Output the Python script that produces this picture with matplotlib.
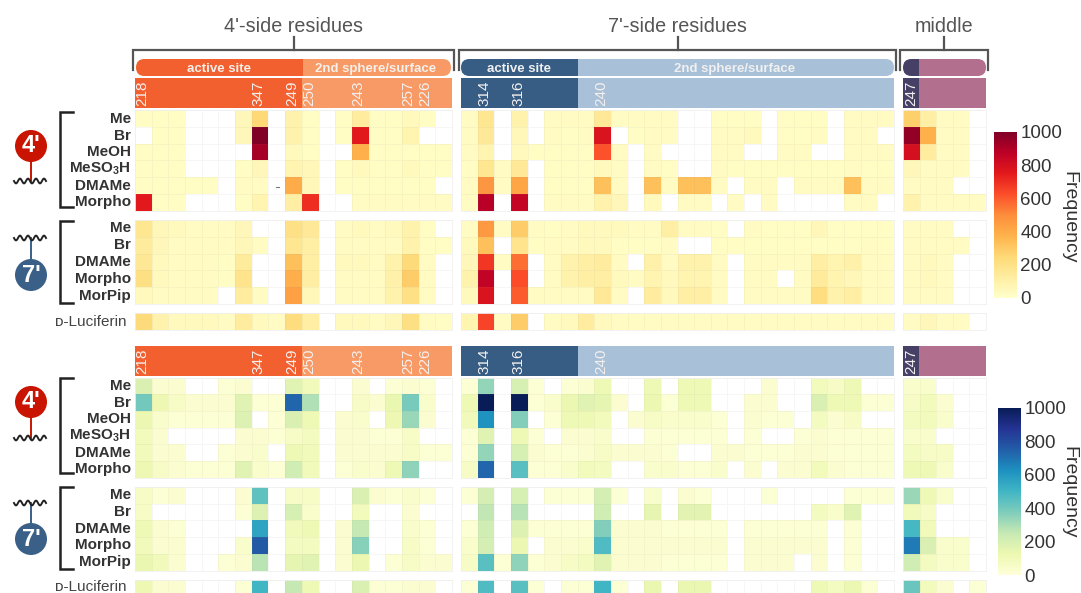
import numpy as np
import matplotlib
matplotlib.use('Agg')
import matplotlib.pyplot as plt
from matplotlib.patches import Rectangle, FancyBboxPatch, Circle

plt.rcParams['font.family'] = ['Liberation Sans', 'DejaVu Sans']
plt.rcParams['mathtext.fontset'] = 'custom'
plt.rcParams['mathtext.bf'] = 'Liberation Sans:bold'

n = np.nan

rows_4 = ['Me', 'Br', 'MeOH', r'$\mathbf{MeSO_3H}$', 'DMAMe', 'Morpho']
rows_7 = ['Me', 'Br', 'DMAMe', 'Morpho', 'MorPip']
luc_label = '\u1d05-Luciferin'
ticks_cb = [0, 200, 400, 600, 800, 1000]

# top heatmap, 4' probes
top_4_left = [
    [25,25,25,n,n,n,55,250,n,90,25,n,25,130,25,25,40,25,n],
    [n,25,25,n,n,n,55,1000,n,90,25,n,25,750,25,25,80,n,n],
    [25,25,25,n,n,n,n,920,n,40,25,n,n,380,25,25,25,25,25],
    [25,25,25,n,n,n,25,55,n,80,55,n,25,40,25,25,40,25,25],
    [25,25,25,25,25,n,30,30,n,400,55,n,25,25,25,25,25,25,n],
    [750,25,25,n,n,n,25,80,n,120,700,n,n,30,30,30,30,30,30],
]
top_4_right = [
    [30,170,n,90,n,30,30,30,150,30,30,30,30,n,n,25,25,25,n,25,25,25,n,30,30,30],
    [30,150,n,55,n,30,25,30,780,n,25,30,30,n,n,30,30,40,n,25,25,30,n,30,30,n],
    [30,80,n,40,25,25,25,25,620,30,n,30,n,n,n,30,30,n,n,30,30,n,n,30,30,30],
    [25,170,30,150,n,25,25,25,40,30,n,30,25,n,n,30,25,25,25,25,25,25,25,30,25,25],
    [30,470,30,420,n,25,25,25,330,30,n,330,30,330,330,30,n,30,30,n,30,30,30,330,30,30],
    [30,880,n,850,n,30,30,30,90,55,n,40,n,30,30,n,30,n,30,n,n,n,n,30,30,n],
]
top_4_mid = [
    [280,110,30,30,n],
    [960,380,30,30,n],
    [800,130,30,30,n],
    [55,30,30,30,n],
    [30,30,30,n,n],
    [90,30,30,30,30],
]

# top heatmap, 7' probes
top_7_left = [
    [170,55,40,30,30,30,55,n,n,200,150,n,30,40,30,40,90,25,n],
    [140,55,30,30,30,30,55,30,n,170,110,n,30,30,30,30,90,25,25],
    [160,40,30,30,30,25,140,n,n,330,110,n,40,40,30,90,240,30,n],
    [210,40,30,30,30,25,180,n,n,390,120,n,30,30,30,100,290,30,n],
    [40,30,30,30,30,n,130,30,n,430,55,n,30,30,30,90,200,30,n],
]
top_7_right = [
    [30,460,30,290,30,25,30,40,40,40,30,30,110,30,30,25,n,30,25,25,25,55,25,25,25,25],
    [40,330,n,180,25,30,30,40,40,25,25,25,30,n,n,25,25,25,25,25,25,25,25,25,30,25],
    [55,680,30,560,n,30,90,110,130,30,n,100,30,90,90,30,n,30,30,30,30,120,80,100,30,30],
    [90,860,n,630,n,30,90,110,120,40,30,80,40,80,80,30,n,30,30,n,30,140,80,55,30,30],
    [40,780,n,600,30,30,30,30,150,30,n,130,40,110,110,30,n,30,30,30,30,220,90,120,30,30],
]
top_7_mid = [
    [30,30,30,n,n],
    [30,30,30,30,n],
    [30,40,30,n,n],
    [30,40,30,n,n],
    [30,30,30,n,n],
]

top_luc_left = [[240,90,40,40,40,30,130,40,30,230,120,n,40,40,30,55,210,30,25]]
top_luc_right = [[80,650,30,290,n,30,40,130,40,30,30,30,30,30,30,30,30,30,30,30,30,30,30,30,30,30]]
top_luc_mid = [[30,55,30,30,n]]

# bottom heatmap, 4' probes
bot_4_left = [
    [190,30,30,n,n,20,30,n,n,170,100,n,n,30,n,20,30,20,n],
    [400,120,55,30,30,30,170,20,20,730,290,n,n,55,30,140,390,40,n],
    [130,40,20,20,20,20,180,n,20,190,110,n,30,40,n,120,330,30,n],
    [90,30,n,n,n,n,30,30,20,55,80,n,30,30,20,20,55,n,n],
    [100,30,30,n,n,20,30,40,n,110,100,n,30,30,30,30,55,20,20],
    [120,55,30,20,20,20,170,40,20,220,100,n,20,40,30,110,350,n,n],
]
bot_4_right = [
    [20,340,n,200,20,n,20,30,110,n,n,110,n,110,110,n,n,n,30,n,n,90,55,110,n,n],
    [110,1000,n,1000,20,40,130,170,150,30,n,130,20,110,110,n,n,30,30,n,n,190,110,110,20,20],
    [100,620,n,370,n,20,110,110,90,n,30,55,40,40,40,20,n,30,20,20,n,80,30,55,n,n],
    [20,170,n,110,20,n,30,30,40,n,n,20,20,20,20,20,n,20,n,n,20,30,20,20,20,20],
    [20,340,n,200,30,20,20,30,55,30,30,30,20,n,n,30,30,20,20,20,30,30,20,20,20,20],
    [55,730,n,450,20,20,40,90,80,n,n,40,40,20,20,40,n,30,n,30,30,90,30,20,20,20],
]
bot_4_mid = [
    [40,40,n,n,n],
    [55,90,30,n,n],
    [80,90,40,n,n],
    [40,40,n,n,n],
    [80,55,55,n,n],
    [110,110,40,n,n],
]

# bottom heatmap, 7' probes
bot_7_left = [
    [55,20,30,n,n,n,30,440,n,55,55,n,n,190,30,20,40,20,n],
    [55,n,n,n,n,n,20,180,n,200,40,n,n,90,n,n,30,n,n],
    [110,30,20,n,n,n,n,560,n,100,110,n,30,250,n,n,40,20,n],
    [100,30,30,n,n,n,40,760,n,80,80,n,30,360,n,n,55,20,n],
    [140,100,30,n,n,20,30,270,n,150,170,n,30,130,n,20,55,30,30],
]
bot_7_right = [
    [20,210,n,200,n,20,20,20,210,20,n,40,n,30,20,n,n,n,20,n,n,n,n,20,20,20],
    [n,260,n,280,n,n,n,n,220,n,n,150,n,160,160,n,n,n,n,n,n,80,40,170,n,n],
    [20,220,n,180,20,20,20,20,370,30,30,30,20,20,20,20,n,20,20,20,20,20,n,20,n,n],
    [40,210,n,130,n,30,30,40,470,30,30,30,30,30,30,30,n,30,30,30,30,30,n,20,n,n],
    [55,450,20,350,20,30,55,80,170,30,30,30,20,20,20,20,n,30,30,30,n,30,n,20,n,n],
]
bot_7_mid = [
    [330,110,40,n,n],
    [100,55,n,n,n],
    [490,100,n,n,n],
    [680,190,40,40,n],
    [220,80,40,40,n],
]

bot_luc_left = [[120,30,30,n,n,n,20,500,n,250,110,n,n,190,20,20,30,30,n]]
bot_luc_right = [[20,470,n,450,20,n,20,20,500,20,n,140,n,140,140,n,n,n,n,n,n,110,80,130,20,n]]
bot_luc_mid = [[420,90,30,n,20]]

W, H = 1081, 593
fig = plt.figure(figsize=(W / 100, H / 100), dpi=100)


def add_ax(x0, y0, x1, y1):
    # pixel box, y measured from the top of the picture
    return fig.add_axes([x0 / W, 1 - y1 / H, (x1 - x0) / W, (y1 - y0) / H])


def cells(box, vals, cmap):
    ax = add_ax(*box)
    cm = plt.get_cmap(cmap).copy()
    cm.set_bad('white')
    m = ax.pcolormesh(np.ma.masked_invalid(np.array(vals, dtype=float)), cmap=cm, vmin=0, vmax=1000,
                      edgecolors=(0.55, 0.55, 0.55, 0.07), linewidth=0.7)
    ax.invert_yaxis()
    ax.set_xticks([])
    ax.set_yticks([])
    for s in ax.spines.values():
        s.set_color('#f0f0f0')
        s.set_linewidth(0.6)
    return m


cols_x = [(135, 452), (461, 894), (903, 986)]

for i, block in enumerate([top_4_left, top_4_right, top_4_mid]):
    cells((cols_x[i][0], 110.5, cols_x[i][1], 210.5), block, 'YlOrRd')
for i, block in enumerate([top_7_left, top_7_right, top_7_mid]):
    cells((cols_x[i][0], 220, cols_x[i][1], 304), block, 'YlOrRd')
for i, block in enumerate([top_luc_left, top_luc_right, top_luc_mid]):
    cells((cols_x[i][0], 313, cols_x[i][1], 330), block, 'YlOrRd')
for i, block in enumerate([bot_4_left, bot_4_right, bot_4_mid]):
    cells((cols_x[i][0], 377.5, cols_x[i][1], 477.5), block, 'YlGnBu')
for i, block in enumerate([bot_7_left, bot_7_right, bot_7_mid]):
    cells((cols_x[i][0], 487, cols_x[i][1], 570.5), block, 'YlGnBu')
for i, block in enumerate([bot_luc_left, bot_luc_right, bot_luc_mid]):
    cells((cols_x[i][0], 580, cols_x[i][1], 597), block, 'YlGnBu')

# colorbars
sm_top = plt.cm.ScalarMappable(norm=plt.Normalize(0, 1000), cmap='YlOrRd')
sm_bot = plt.cm.ScalarMappable(norm=plt.Normalize(0, 1000), cmap='YlGnBu')
for sm, box in [(sm_top, (994, 132, 1017, 298)), (sm_bot, (998, 408, 1021, 575))]:
    cax = add_ax(*box)
    cb = fig.colorbar(sm, cax=cax)
    cb.set_ticks(ticks_cb)
    cb.outline.set_visible(False)
    cb.ax.tick_params(length=0, labelsize=13.5, pad=2.5, colors='#333333')

# everything around the heatmaps, in pixel coordinates
bg = fig.add_axes([0, 0, 1, 1], zorder=5)
bg.set_xlim(0, W)
bg.set_ylim(H, 0)
bg.axis('off')
bg.patch.set_alpha(0)

bg.text(1069, 217, 'Frequency', rotation=270, fontsize=14, color='#333333', ha='center', va='center')
bg.text(1069, 492, 'Frequency', rotation=270, fontsize=14, color='#333333', ha='center', va='center')

# residue header bars
for y0, y1 in [(78, 108), (345.5, 376)]:
    for x0, x1, c in [(135, 302, '#f26030'), (302, 452, '#f79a66'),
                      (461, 578, '#375d85'), (578, 894, '#a8c0d8'),
                      (903, 919, '#463f66'), (919, 986, '#b3708e')]:
        bg.add_patch(Rectangle((x0, y0), x1 - x0, y1 - y0, fc=c, ec='none'))
    for lab, x in [('218', 142), ('347', 258), ('249', 292), ('250', 309), ('243', 358),
                   ('257', 408), ('226', 425), ('314', 484.5), ('316', 518), ('240', 601),
                   ('247', 911)]:
        bg.text(x, y1 - 2.5, lab, rotation=90, color='#f4f0ee', fontsize=11, ha='center', va='bottom')

# pills
for x0, xs, x1, c1, c2 in [(136, 303, 451, '#f26030', '#f79a66'),
                           (461, 578, 894, '#375d85', '#a8c0d8'),
                           (903, 919, 986, '#463f66', '#b3708e')]:
    pill = FancyBboxPatch((x0, 59), x1 - x0, 17, boxstyle='round,pad=0,rounding_size=8.5', fc='none', ec='none')
    bg.add_patch(pill)
    r1 = Rectangle((x0, 59), xs - x0, 17, fc=c1, ec='none')
    r2 = Rectangle((xs, 59), x1 - xs, 17, fc=c2, ec='none')
    bg.add_patch(r1)
    bg.add_patch(r2)
    r1.set_clip_path(pill)
    r2.set_clip_path(pill)

for lab, x, c in [('active site', 219, '#f6f0ea'), ('2nd sphere/surface', 376, '#f6f0ea'),
                  ('active site', 519, '#f0f0f0'), ('2nd sphere/surface', 735, '#f0f0f0')]:
    bg.text(x, 72, lab, color=c, fontsize=9.5, fontweight='bold', ha='center', va='baseline')

# group titles with their brackets
for title, x0, x1 in [("4'-side residues", 133, 454), ("7'-side residues", 459, 896), ('middle', 900, 988)]:
    xm = (x0 + x1) / 2
    bg.plot([x0, x0, x1, x1], [70, 50, 50, 70], color='#555555', lw=1.6, solid_joinstyle='miter')
    bg.plot([xm, xm], [37, 50], color='#555555', lw=1.6)
    bg.text(xm, 26, title, color='#555555', fontsize=14.2, ha='center', va='center')

# row labels and brackets
for rows, y0, h, by0, by1 in [(rows_4, 110.5, 16.67, 112, 207), (rows_7, 220, 16.8, 221, 303),
                              (rows_4, 377.5, 16.67, 378, 473), (rows_7, 487, 16.7, 487, 569)]:
    bg.plot([73, 59.5, 59.5, 73], [by0, by0, by1, by1], color='#222222', lw=1.8, solid_joinstyle='miter')
    for i, lab in enumerate(rows):
        bg.text(131, y0 + h * (i + 0.5), lab, fontsize=11, fontweight='bold', color='#333333',
                ha='right', va='center')

bg.text(127, 321.5, luc_label, fontsize=11, color='#444444', ha='right', va='center')
bg.text(127, 587, luc_label, fontsize=11, color='#444444', ha='right', va='center')
bg.plot([276, 279], [186.5, 186.5], color='#777777', lw=0.8)

# probe glyphs
wx = np.linspace(14, 46, 80)
for cy, sy, label, c, stem in [(146, 181, "4'", '#c81400', '#c81400'), (275, 238, "7'", '#3a6088', '#3a6088'),
                               (402, 438, "4'", '#c81400', '#c81400'), (539, 503, "7'", '#3a6088', '#3a6088')]:
    bg.plot(wx, sy + 2.4 * np.sin((wx - 14) * 2 * np.pi / 8), color='#222222', lw=1.4)
    bg.plot([31, 31], [cy, sy], color=stem, lw=1.4, zorder=1)
    bg.add_patch(Circle((31, cy), 16, fc=c, ec='none', zorder=2))
    bg.text(31, cy, label, color='white', fontsize=17, fontweight='bold', ha='center', va='center', zorder=3)

fig.savefig('out.png', dpi=100)
